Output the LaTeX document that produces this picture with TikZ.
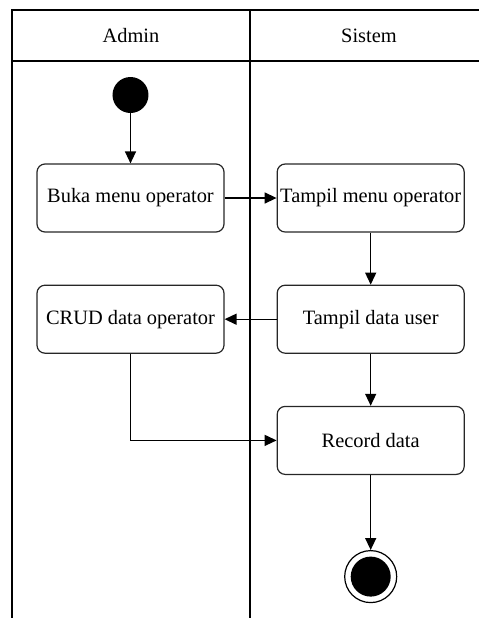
\documentclass[tikz,border=0pt]{standalone}
\usepackage{fontspec}
\setmainfont{Liberation Serif}
\usepackage{tikz}
\usetikzlibrary{positioning,shapes,arrows.meta}
\tikzstyle{activity}=[rectangle, draw=black!85, rounded corners=4pt, line width=0.6pt,
        text centered, minimum width=93.5pt, minimum height=34pt, inner sep=1pt,
        font=\fontsize{10.2}{12}\selectfont]
\tikzstyle{initial}=[circle, fill=black, minimum size=18pt, inner sep=0pt]
\tikzstyle{final}=[circle, draw=black, line width=0.6pt, minimum size=26pt, inner sep=0pt,
        path picture={\fill[black] (path picture bounding box.center) circle (10pt);}]
\tikzstyle{flow}=[-{Triangle[length=6pt,width=5.5pt]}, line width=0.7pt]
\tikzstyle{lane}=[line width=0.75pt]
\tikzstyle{lanetitle}=[font=\fontsize{10.2}{12}\selectfont]

\begin{document}
\begin{tikzpicture}[x=0.5pt, y=-0.5pt, node distance=26pt]
        \useasboundingbox (0,0) rectangle (479,618);
        % swimlanes
        \draw[lane] (12,618) -- (12,10) -- (479,10);
        \draw[lane] (12,61) -- (479,61);
        \draw[lane] (250,10) -- (250,618);
        \node (admin) [lanetitle] at (131,36) {Admin};
        \node (sistem) [lanetitle] at (369,36) {Sistem};
        % activities
        \node (buka) [activity] at (130.5,198) {Buka menu operator};
        \node (start) [initial, above=25pt of buka] {};
        \node (tampilmenu) [activity, right=of buka] {Tampil menu operator};
        \node (tampildata) [activity, below=of tampilmenu] {Tampil data user};
        \node (crud) [activity, left=of tampildata] {CRUD data operator};
        \node (record) [activity, below=of tampildata] {Record data};
        \node (finish) [final, below=37.5pt of record] {};
        % flows
        \draw[flow] (start) -- (buka);
        \draw[flow] (buka) -- (tampilmenu);
        \draw[flow] (tampilmenu) -- (tampildata);
        \draw[flow] (tampildata) -- (crud);
        \draw[flow] (tampildata) -- (record);
        \draw[flow] (crud) |- (record);
        \draw[flow] (record) -- (finish);
\end{tikzpicture}
\end{document}
